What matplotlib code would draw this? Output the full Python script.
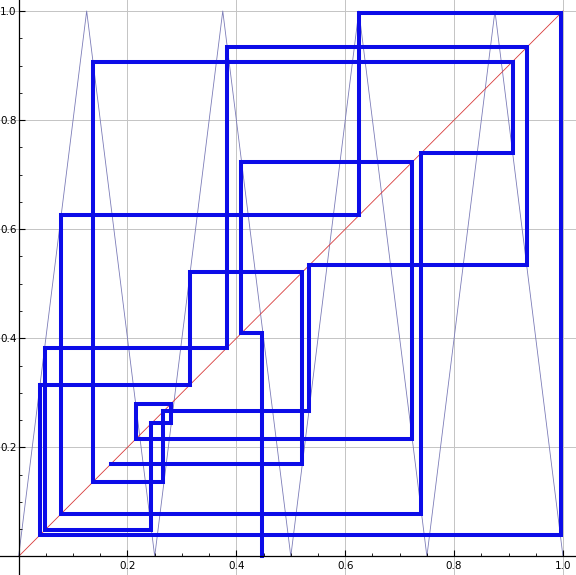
import numpy as np
import matplotlib
matplotlib.use("Agg")
import matplotlib.pyplot as plt
from matplotlib.ticker import FixedLocator

# tent map (3rd iterate) vertices
TENT_X = [0.0, 0.125, 0.25, 0.375, 0.5, 0.625, 0.75, 0.875, 1.0]
TENT_Y = [0, 1, 0, 1, 0, 1, 0, 1, 0]

# orbit read from the cobweb
ORBIT = [0.448, 0.409, 0.7225, 0.215, 0.2795, 0.244, 0.048, 0.3828, 0.9335,
         0.5335, 0.266, 0.136, 0.9074, 0.7398, 0.0778, 0.6253, 0.996, 0.039,
         0.315, 0.5206, 0.170]

MAJOR = [0.2, 0.4, 0.6, 0.8, 1.0]
MINOR = [0.05, 0.1, 0.15, 0.25, 0.3, 0.35, 0.45, 0.5, 0.55, 0.65, 0.7, 0.75,
         0.85, 0.9, 0.95]


def cobweb_path(orbit):
    xs = [orbit[0]]
    ys = [0.0]
    for a, b in zip(orbit[:-1], orbit[1:]):
        xs += [a, b]
        ys += [b, b]
    return xs, ys


fig = plt.figure(figsize=(5.76, 5.75), dpi=100)
ax = fig.add_axes([0, 0, 1, 1])
ax.set_xlim(-0.0342, 1.0239)
ax.set_ylim(-0.0341, 1.0202)

for v in MAJOR:
    ax.axvline(v, color='#c4c4c4', lw=0.7, zorder=0)
    ax.axhline(v, color='#c4c4c4', lw=0.7, zorder=0)

ax.plot(TENT_X, TENT_Y, color='#7c7cb8', lw=0.6, zorder=1)
ax.plot([0, 1], [0, 1], color='#d83a3a', lw=0.6, zorder=2)

cx, cy = cobweb_path(ORBIT)
ax.plot(cx, cy, color='#0c0ce8', lw=2.9, solid_joinstyle='miter', zorder=3)

for s in ['top', 'right']:
    ax.spines[s].set_visible(False)
for s in ['left', 'bottom']:
    ax.spines[s].set_position(('data', 0))
    ax.spines[s].set_linewidth(0.9)
    ax.spines[s].set_zorder(4)

ax.xaxis.set_major_locator(FixedLocator(MAJOR))
ax.yaxis.set_major_locator(FixedLocator(MAJOR))
ax.xaxis.set_minor_locator(FixedLocator(MINOR))
ax.yaxis.set_minor_locator(FixedLocator(MINOR))
ax.set_xticklabels([f"{v:.1f}" for v in MAJOR])
ax.set_yticklabels([f"{v:.1f}" for v in MAJOR])
ax.tick_params(which='major', direction='in', length=4, width=0.8,
               labelsize=7.5)
ax.tick_params(axis='x', which='major', pad=3)
ax.tick_params(axis='y', which='major', pad=1.5)
ax.tick_params(which='minor', direction='in', length=2.2, width=0.6)

fig.savefig('out.png', dpi=100)
